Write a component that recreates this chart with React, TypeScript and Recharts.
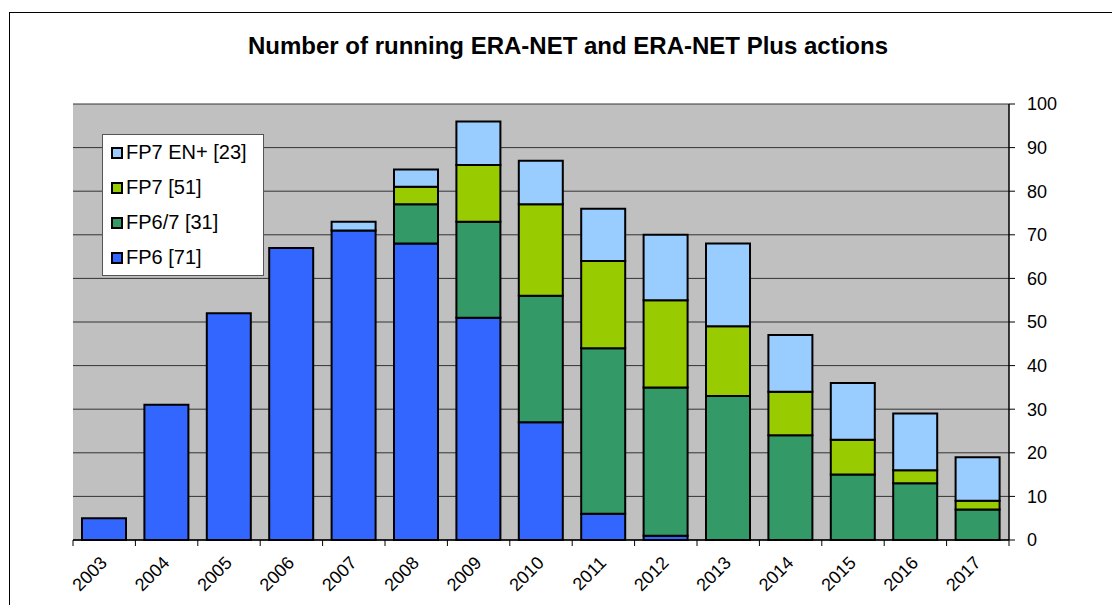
import React from "react";
import {
  BarChart,
  Bar,
  XAxis,
  YAxis,
  CartesianGrid,
  Legend,
} from "recharts";

const years = ["2003", "2004", "2005", "2006", "2007", "2008", "2009", "2010", "2011", "2012", "2013", "2014", "2015", "2016", "2017"];
const fp6 = [5, 31, 52, 67, 71, 68, 51, 27, 6, 1, 0, 0, 0, 0, 0];
const fp67 = [0, 0, 0, 0, 0, 9, 22, 29, 38, 34, 33, 24, 15, 13, 7];
const fp7 = [0, 0, 0, 0, 0, 4, 13, 21, 20, 20, 16, 10, 8, 3, 2];
const fp7en = [0, 0, 0, 0, 2, 4, 10, 10, 12, 15, 19, 13, 13, 13, 10];
const yTicks = [0, 10, 20, 30, 40, 50, 60, 70, 80, 90, 100];

// bottom to top in the stack
const series = [
  { key: "fp6", name: "FP6 [71]", color: "#3366FF" },
  { key: "fp67", name: "FP6/7 [31]", color: "#339966" },
  { key: "fp7", name: "FP7 [51]", color: "#99CC00" },
  { key: "fp7en", name: "FP7 EN+ [23]", color: "#99CCFF" },
];

const data = years.map((year, i) => ({
  year,
  fp6: fp6[i],
  fp67: fp67[i],
  fp7: fp7[i],
  fp7en: fp7en[i],
}));

const W = 1120;
const H = 613;
const margin = { top: 104, left: 73, right: 51, bottom: 13 };
const Y_AXIS_W = 60;
const PLOT_W = W - margin.left - margin.right - Y_AXIS_W;
const BAND = PLOT_W / years.length;
const FONT = '"Liberation Sans", Arial, sans-serif';

const YearTick = (props: any) => {
  const { x, y, payload, index } = props;
  const half = BAND / 2;
  const ax = x + 4;
  const ay = y + 24;
  return (
    <g>
      <line x1={x - half} x2={x - half} y1={y} y2={y + 6} stroke="#000" />
      {index === years.length - 1 && (
        <line x1={x + half} x2={x + half} y1={y} y2={y + 6} stroke="#000" />
      )}
      <text
        x={ax}
        y={ay}
        textAnchor="end"
        transform={`rotate(-45 ${ax} ${ay})`}
        fontSize={18}
        fontFamily={FONT}
        fill="#000"
      >
        {payload.value}
      </text>
    </g>
  );
};

const LegendBox = () => (
  <div
    style={{
      background: "#fff",
      border: "1px solid #555",
      width: 162,
      boxSizing: "border-box",
      fontFamily: FONT,
    }}
  >
    {[...series].reverse().map((s) => (
      <div key={s.key} style={{ display: "flex", alignItems: "center", height: 35 }}>
        <span
          style={{
            display: "inline-block",
            width: 8,
            height: 8,
            marginLeft: 8,
            background: s.color,
            border: "2px solid #000",
          }}
        />
        <span style={{ marginLeft: 3, fontSize: 20, color: "#000" }}>{s.name}</span>
      </div>
    ))}
  </div>
);

export default function App() {
  return (
    <div
      style={{
        position: "relative",
        margin: -8,
        width: W,
        height: H,
        overflow: "hidden",
        background: "#fff",
      }}
    >
      <div
        style={{
          position: "absolute",
          left: 9,
          top: 12,
          width: W - 9,
          height: H - 12,
          borderLeft: "1px solid #000",
          borderTop: "1px solid #000",
          boxSizing: "border-box",
        }}
      />
      <div
        style={{
          position: "absolute",
          left: 0,
          top: 33,
          width: 1136,
          textAlign: "center",
          fontFamily: FONT,
          fontWeight: "bold",
          fontSize: 24,
          lineHeight: "26px",
          color: "#000",
        }}
      >
        Number of running ERA-NET and ERA-NET Plus actions
      </div>
      <div style={{ position: "absolute", left: 0, top: 0 }}>
        <BarChart width={W} height={H} data={data} margin={margin} barSize={44}>
          <CartesianGrid
            vertical={false}
            fill="#C0C0C0"
            stroke="#333"
            fillOpacity={1}
          />
          <XAxis
            dataKey="year"
            height={60}
            tickLine={false}
            tickSize={0}
            tickMargin={0}
            axisLine={{ stroke: "#000", strokeWidth: 1.5 }}
            tick={<YearTick />}
            interval={0}
          />
          <YAxis
            yAxisId="l"
            orientation="left"
            width={0}
            domain={[0, 100]}
            ticks={yTicks}
            tick={false}
            tickLine={false}
            axisLine={{ stroke: "#808080", strokeWidth: 1.5 }}
          />
          <YAxis
            orientation="right"
            width={Y_AXIS_W}
            domain={[0, 100]}
            ticks={yTicks}
            interval={0}
            tickSize={6}
            tickMargin={12}
            tickLine={{ stroke: "#000" }}
            axisLine={{ stroke: "#000", strokeWidth: 1.5 }}
            tick={{ fill: "#000", fontSize: 18, fontFamily: FONT, textAnchor: "start" }}
          />
          <Legend
            layout="vertical"
            align="center"
            verticalAlign="middle"
            content={<LegendBox />}
            wrapperStyle={{ left: 102, top: 134, width: 162 }}
          />
          {series.map((s) => (
            <Bar
              key={s.key}
              dataKey={s.key}
              name={s.name}
              stackId="a"
              fill={s.color}
              stroke="#000"
              strokeWidth={2}
              isAnimationActive={false}
            />
          ))}
        </BarChart>
      </div>
    </div>
  );
}
